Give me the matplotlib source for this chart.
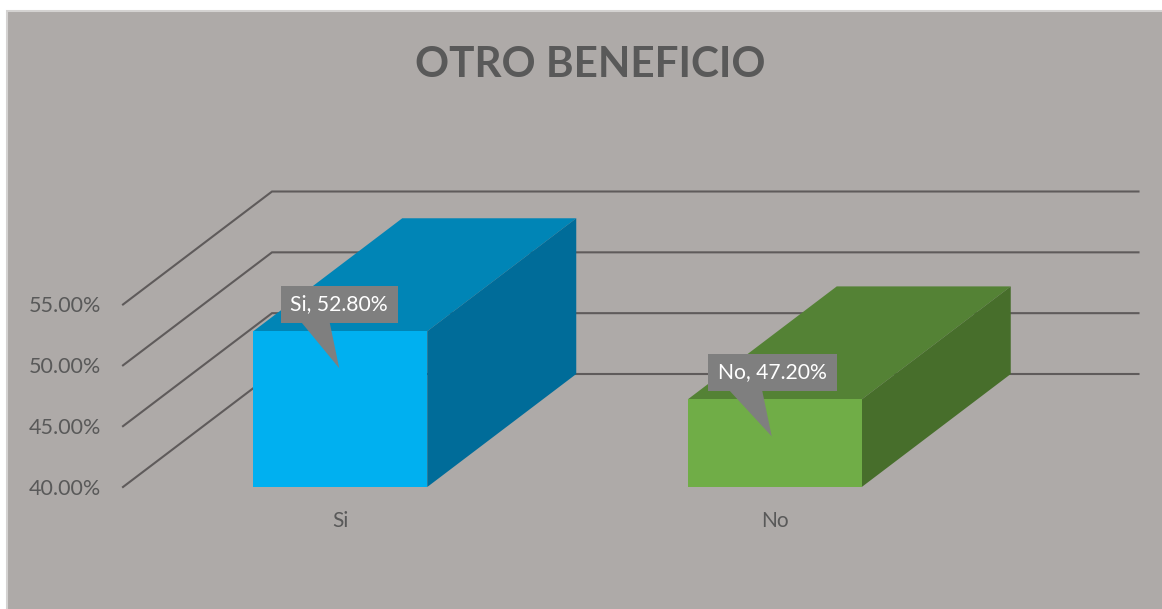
import matplotlib
matplotlib.use('Agg')
import matplotlib.pyplot as plt
from matplotlib.patches import Polygon, Rectangle

# Data
categories = ['Si', 'No']
values = [52.80, 47.20]
y_ticks = [40, 45, 50, 55]
title = 'OTRO BENEFICIO'

W, H = 1162, 609
BG = '#AEAAA8'
TEXT = '#595959'
GRID = '#5F5B5B'
FRONT = ['#00B0F0', '#70AD47']
TOP = ['#0085B6', '#548235']
SIDE = ['#006C99', '#476E2B']

plt.rcParams['font.family'] = ['Lato', 'DejaVu Sans']

fig = plt.figure(figsize=(W / 100, H / 100), dpi=100, facecolor='white')

# Chart background with its thin light border
fig.add_artist(Rectangle((7 / W, -0.01), 1.01, 1.01 - 11 / H, transform=fig.transFigure,
                         facecolor=BG, edgecolor='#D4D2D1', linewidth=1.5, zorder=-1))

# The axes is the front plane of the 3D box
left, right, bottom, top = 123, 992, 487, 304.5
ax = fig.add_axes([left / W, 1 - bottom / H, (right - left) / W, (bottom - top) / H])
ax.set_xlim(0, 2)
ax.set_ylim(40, 55)
ax.patch.set_visible(False)
for s in ax.spines.values():
    s.set_visible(False)

px_x = 2 / (right - left)
px_y = 15 / (bottom - top)
depth_x = 149 * px_x
depth_y = 113 * px_y
bar_w = 174 * px_x

# Floor and wall lines
for v in y_ticks:
    ax.plot([0, depth_x, 2 + depth_x - 2.5 * px_x], [v, v + depth_y, v + depth_y],
            color=GRID, lw=1.5, clip_on=False, zorder=1, solid_joinstyle='miter')

ax.set_xticks([0.5, 1.5])
ax.set_xticklabels(categories)
ax.set_yticks(y_ticks)
ax.set_yticklabels([f'{v:.2f}%' for v in y_ticks])
ax.tick_params(axis='y', length=0, pad=16, labelsize=15.5, labelcolor=TEXT)
ax.tick_params(axis='x', length=0, pad=17, labelsize=15, labelcolor=TEXT)

# Extruded bars
for i, v in enumerate(values):
    x0 = i + 0.5 - bar_w / 2
    x1 = i + 0.5 + bar_w / 2
    base = 40
    ax.add_patch(Polygon([(x0, v), (x1, v), (x1 + depth_x, v + depth_y), (x0 + depth_x, v + depth_y)],
                         facecolor=TOP[i], edgecolor='none', clip_on=False, zorder=2))
    ax.add_patch(Polygon([(x1, base), (x1 + depth_x, base + depth_y), (x1 + depth_x, v + depth_y), (x1, v)],
                         facecolor=SIDE[i], edgecolor='none', clip_on=False, zorder=2))
    ax.add_patch(Rectangle((x0, base), x1 - x0, v - base, facecolor=FRONT[i],
                           edgecolor='none', clip_on=False, zorder=3))

# Callout labels: box and tail, offsets in pixels from the top centre of the front face
box_l = [-59.5, -67]
box_r = [57.5, 62]
tail = [(-38.5, -10.5, -1), (-45, -12.5, -3)]
for i, v in enumerate(values):
    cx = i + 0.5
    box_x0 = cx + box_l[i] * px_x
    box_x1 = cx + box_r[i] * px_x
    box_y1 = v + 45.5 * px_y
    box_y0 = v + 8.5 * px_y
    ax.add_patch(Rectangle((box_x0, box_y0), box_x1 - box_x0, box_y1 - box_y0,
                           facecolor='#7F7F7F', edgecolor='none', clip_on=False, zorder=4))
    t0, t1, tip = tail[i]
    ax.add_patch(Polygon([(cx + t0 * px_x, box_y0), (cx + t1 * px_x, box_y0),
                          (cx + tip * px_x, v - 37 * px_y)],
                         facecolor='#7F7F7F', edgecolor='none', clip_on=False, zorder=4))
    ax.text((box_x0 + box_x1) / 2, (box_y0 + box_y1) / 2, f'{categories[i]}, {v:.2f}%',
            color='white', fontsize=15.2, ha='center', va='center', zorder=5)

fig.text(590 / W, 1 - 65 / H, title, color=TEXT, fontsize=30.4, fontweight='bold',
         ha='center', va='center')

fig.savefig('out.png', dpi=100, facecolor='white')
